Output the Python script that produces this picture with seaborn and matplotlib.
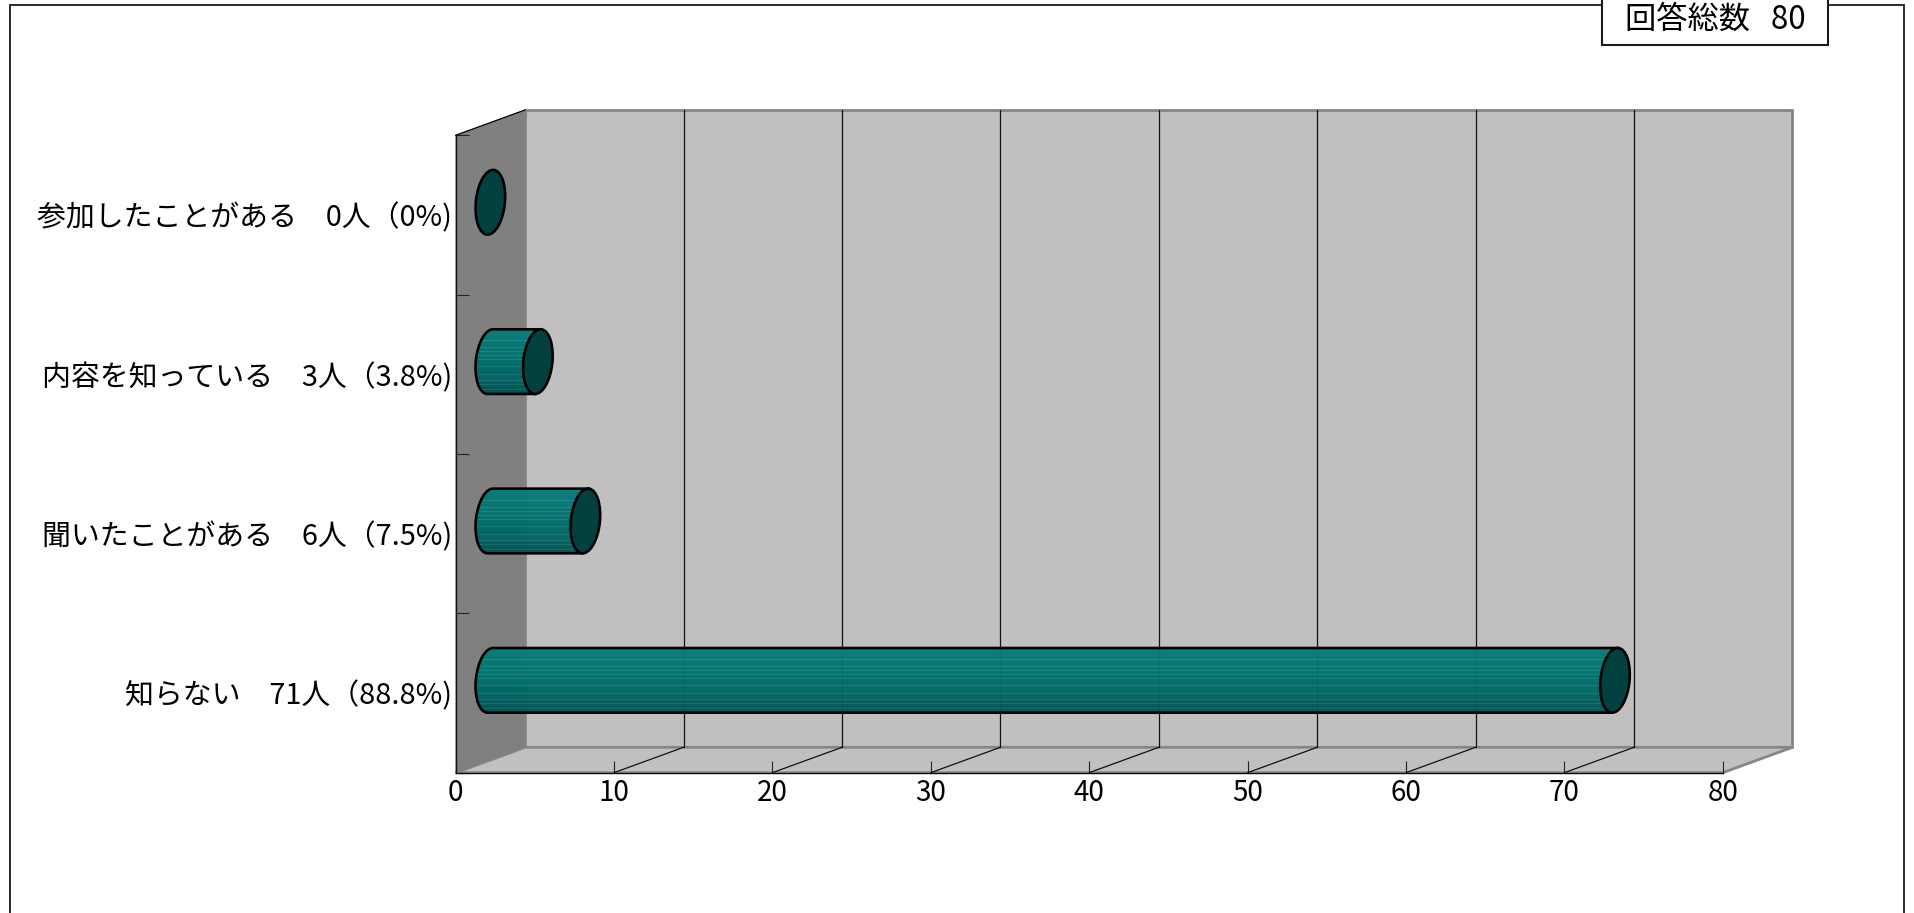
import numpy as np
import pandas as pd
import matplotlib
matplotlib.use('Agg')
import matplotlib.pyplot as plt
import seaborn as sns
from matplotlib.path import Path
from matplotlib.patches import PathPatch, Polygon, Rectangle
from matplotlib.transforms import Affine2D, IdentityTransform

names = ['参加したことがある', '内容を知っている', '聞いたことがある', '知らない']
counts = [0, 3, 6, 71]
percents = ['0', '3.8', '7.5', '88.8']
x_ticks = [0, 10, 20, 30, 40, 50, 60, 70, 80]
total = 80

W, H = 1914, 913

sns.set_theme(style='white')
plt.rcParams['font.family'] = ['Noto Sans CJK JP', 'DejaVu Sans']


def fx(px):
    return px / W


def fy(py):
    return 1 - py / H


labels = [f'{n}\u3000{c}人（{p}%)' for n, c, p in zip(names, counts, percents)]
df = pd.DataFrame({'label': labels, 'count': counts})

fig = plt.figure(figsize=(W / 100, H / 100), dpi=100, facecolor='white')

# outer frame runs off the bottom of the picture
fig.add_artist(Rectangle((fx(10), fy(930)), fx(1904) - fx(10), fy(5.5) - fy(930),
                         transform=fig.transFigure, fill=False, edgecolor='#1a1a1a', linewidth=1.3))

ax = fig.add_axes([fx(455.5), fy(772.7), fx(1722.7) - fx(455.5), fy(135.3) - fy(772.7)])
ax.patch.set_visible(False)

sns.barplot(data=df, x='count', y='label', order=labels, width=0.41, color='#007070', ax=ax)
ax.set_xlim(0, 80)
ax.set_ylim(3.5, -0.5)
ax.set_autoscale_on(False)
ax.set_xlabel('')
ax.set_ylabel('')

# depth of the fake 3d box, in data units
DX = 69.7 / (1267.2 / 80)
DY = 25.4 / 159.35
y_top, y_bot = -0.5, 3.5

wall = {'clip_on': False, 'zorder': 0.5}
ax.add_patch(Polygon([(DX, y_top - DY), (80 + DX, y_top - DY), (80 + DX, y_bot - DY), (DX, y_bot - DY)],
                     facecolor='#c0c0c0', edgecolor='#868686', linewidth=2.0, **wall))
ax.add_patch(Polygon([(0, y_bot), (80, y_bot), (80 + DX, y_bot - DY), (DX, y_bot - DY)],
                     facecolor='#c0c0c0', edgecolor='#868686', linewidth=2.0, **wall))
ax.add_patch(Polygon([(0, y_top), (DX, y_top - DY), (DX, y_bot - DY), (0, y_bot)],
                     facecolor='#808080', edgecolor='none', **wall))
ax.plot([0, DX], [y_top, y_top - DY], color='black', lw=0.9, clip_on=False, zorder=0.7)

for t in x_ticks[1:-1]:
    ax.plot([t + DX, t + DX], [y_top - DY, y_bot - DY], color='#111111', lw=0.9, clip_on=False, zorder=1)
    ax.plot([t, t + DX], [y_bot, y_bot - DY], color='#111111', lw=0.9, clip_on=False, zorder=1)

# bars sit half way into the depth
mid = Affine2D().translate(DX / 2, -DY / 2) + ax.transData

shade = np.array([[8, 126, 122], [4, 114, 109], [2, 100, 97], [0, 82, 82]], dtype=float)
rows = 66
pos = np.linspace(0, 1, rows)
grad = np.stack([np.interp(pos, [0, 0.4, 0.75, 1], shade[:, i]) for i in range(3)], axis=1)
for f in [0.19, 0.30, 0.36, 0.42, 0.48, 0.58, 0.70, 0.80, 0.855, 0.93]:
    grad[int(f * rows)] += [18, 18, 18]
grad = np.clip(grad, 0, 255) / 255
grad = grad[:, None, :]

cap_w, cap_h, tilt = 29.0, 65.0, -6
ellipse = Affine2D().scale(cap_w / 2, cap_h / 2).rotate_deg(tilt)

for bar, c in zip(ax.patches, counts):
    bar.set_transform(mid)
    bar.set_facecolor('none')
    bar.set_edgecolor('none')
    y0 = bar.get_y()
    yc = y0 + bar.get_height() / 2
    xl, yl = mid.transform((0, yc))
    xr, yr = mid.transform((c, yc))

    if c > 0:
        left = ellipse.transform_path(Path.arc(90, 270))
        verts = left.vertices + [xl, yl]
        top = ellipse.transform((0, 1))
        bottom = ellipse.transform((0, -1))
        verts = np.vstack([verts, [xr + bottom[0], yr + bottom[1]], [xr + top[0], yr + top[1]], verts[0], verts[0]])
        codes = list(left.codes) + [Path.LINETO, Path.LINETO, Path.LINETO, Path.CLOSEPOLY]
        barrel = Path(verts, codes)

        im = ax.imshow(grad, extent=(-1.5, c + 1, y0 + bar.get_height(), y0), aspect='auto',
                       interpolation='nearest', transform=mid, zorder=2, alpha=0.97)
        im.set_clip_path(barrel, IdentityTransform())
        ax.add_patch(PathPatch(barrel, fill=False, edgecolor='black', linewidth=1.9,
                               transform=IdentityTransform(), zorder=2.5, clip_on=False))

    cap = Path.unit_circle()
    ax.add_patch(PathPatch(cap, facecolor='#034040', edgecolor='black', linewidth=1.9,
                           transform=ellipse + Affine2D().translate(xr, yr), zorder=3, clip_on=False))

ax.set_xlim(0, 80)
ax.set_ylim(3.5, -0.5)

for side in ['top', 'right']:
    ax.spines[side].set_visible(False)
for side in ['left', 'bottom']:
    ax.spines[side].set_visible(True)
    ax.spines[side].set_color('#111111')
    ax.spines[side].set_linewidth(1.0)

ax.set_xticks(x_ticks)
ax.tick_params(axis='x', which='major', direction='in', length=9, width=0.8, color='#222222',
               labelsize=20, pad=4, bottom=True)
ax.set_yticks([-0.5, 0.5, 1.5, 2.5, 3.5], minor=True)
ax.tick_params(axis='y', which='minor', direction='in', length=9, width=0.8, color='#222222', left=True)
ax.tick_params(axis='y', which='major', length=0, labelsize=20.8, pad=2.5)
for lab in ax.get_yticklabels():
    lab.set_color('black')
for lab in ax.get_xticklabels():
    lab.set_color('black')

# total box at the top right, cut by the picture edge
fig.add_artist(Rectangle((fx(1602), fy(45.5)), fx(1827.7) - fx(1602), fy(-5) - fy(45.5),
                         transform=fig.transFigure, facecolor='white', edgecolor='#1a1a1a', linewidth=1.5))
fig.text(fx(1715), fy(20), f'回答総数   {total}', fontsize=22.5, color='black', ha='center', va='center')

fig.savefig('out.png', dpi=100)
